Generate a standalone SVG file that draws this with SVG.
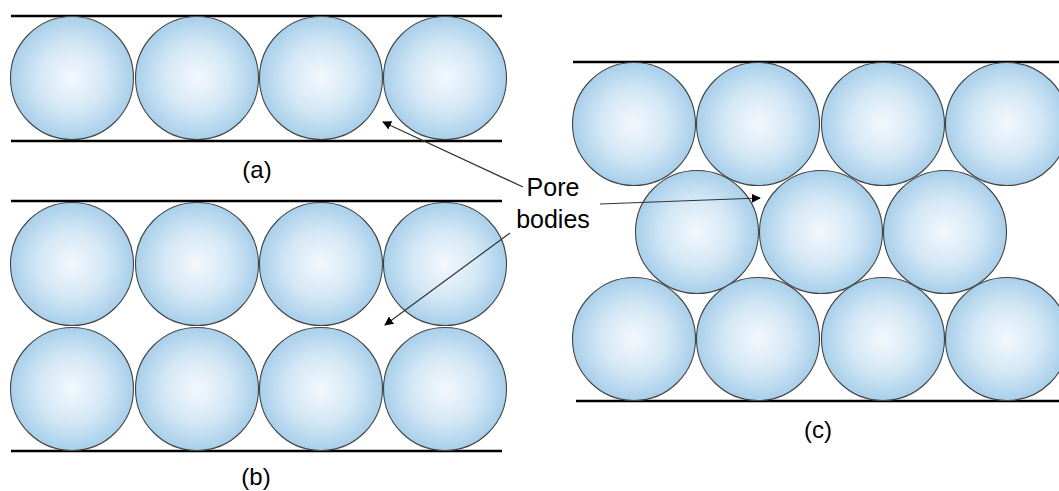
<svg xmlns="http://www.w3.org/2000/svg" width="1059" height="491" viewBox="0 0 1059 491">
  <defs>
    <radialGradient id="ball" cx="0.5" cy="0.5" r="0.5">
      <stop offset="0" stop-color="#f3f8fd"/>
      <stop offset="0.55" stop-color="#d3e7f5"/>
      <stop offset="1" stop-color="#a8cfea"/>
    </radialGradient>
    <marker id="head" viewBox="0 0 10 10" refX="9" refY="5" markerWidth="9" markerHeight="9" markerUnits="userSpaceOnUse" orient="auto">
      <path d="M0,0 L10,5 L0,10 Z" fill="#000"/>
    </marker>
    <circle id="g" r="61.5"/>
  </defs>
  <style>
    .wall { stroke: #000; stroke-width: 2.5; fill: none; }
    .grain { fill: url(#ball); stroke: #444; stroke-width: 1.1; }
    .label { font-family: "Liberation Sans", Arial, sans-serif; fill: #000; text-anchor: middle; }
    .conn { stroke: #333; stroke-width: 1.2; fill: none; marker-end: url(#head); }
  </style>

  <rect width="1059" height="491" fill="#fff"/>

  <!-- (a) single row between two walls -->
  <g id="panel-a">
    <line class="wall" x1="11" y1="16" x2="502" y2="16"/>
    <line class="wall" x1="11" y1="141" x2="502" y2="141"/>
    <use href="#g" class="grain" x="72" y="78"/>
    <use href="#g" class="grain" x="197" y="78"/>
    <use href="#g" class="grain" x="321" y="78"/>
    <use href="#g" class="grain" x="445" y="78"/>
    <text class="label" x="257" y="178" font-size="24">(a)</text>
  </g>

  <!-- (b) two stacked rows, cubic packing -->
  <g id="panel-b">
    <line class="wall" x1="11" y1="201" x2="502" y2="201"/>
    <line class="wall" x1="11" y1="451" x2="502" y2="451"/>
    <use href="#g" class="grain" x="72" y="264"/>
    <use href="#g" class="grain" x="197" y="264"/>
    <use href="#g" class="grain" x="321" y="264"/>
    <use href="#g" class="grain" x="445" y="264"/>
    <use href="#g" class="grain" x="72" y="389"/>
    <use href="#g" class="grain" x="197" y="389"/>
    <use href="#g" class="grain" x="321" y="389"/>
    <use href="#g" class="grain" x="445" y="389"/>
    <text class="label" x="256" y="485" font-size="24">(b)</text>
  </g>

  <!-- (c) three rows, offset (hexagonal) packing -->
  <g id="panel-c">
    <line class="wall" x1="573" y1="62" x2="1059" y2="62"/>
    <line class="wall" x1="576" y1="401" x2="1059" y2="401"/>
    <use href="#g" class="grain" x="634" y="124"/>
    <use href="#g" class="grain" x="758" y="124"/>
    <use href="#g" class="grain" x="883" y="124"/>
    <use href="#g" class="grain" x="1007" y="124"/>
    <use href="#g" class="grain" x="697" y="232"/>
    <use href="#g" class="grain" x="821" y="232"/>
    <use href="#g" class="grain" x="945" y="232"/>
    <use href="#g" class="grain" x="634" y="339"/>
    <use href="#g" class="grain" x="758" y="339"/>
    <use href="#g" class="grain" x="883" y="339"/>
    <use href="#g" class="grain" x="1007" y="339"/>
    <text class="label" x="818" y="438" font-size="24">(c)</text>
  </g>

  <g id="pore-label">
    <text class="label" x="553" y="196" font-size="25">Pore</text>
    <text class="label" x="553" y="228" font-size="25">bodies</text>
  </g>

  <!-- leaders from the label to the pore spaces -->
  <g id="connectors">
    <line class="conn" x1="523" y1="187" x2="383" y2="122"/>
    <line class="conn" x1="600" y1="204" x2="760" y2="198"/>
    <line class="conn" x1="510" y1="233" x2="385" y2="325"/>
  </g>
</svg>
